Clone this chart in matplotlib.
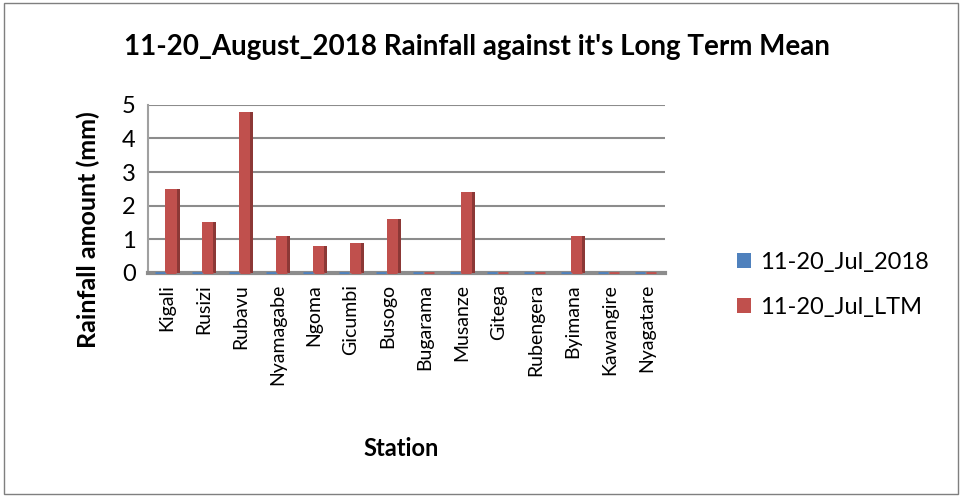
import numpy as np
import matplotlib.pyplot as plt
from matplotlib.patches import Rectangle

stations = ["Kigali", "Rusizi", "Rubavu", "Nyamagabe", "Ngoma", "Gicumbi", "Busogo",
            "Bugarama", "Musanze", "Gitega", "Rubengera", "Byimana", "Kawangire", "Nyagatare"]
jul_2018 = [0, 0, 0, 0, 0, 0, 0, 0, 0, 0, 0, 0, 0, 0]
jul_ltm = [2.5, 1.5, 4.8, 1.1, 0.8, 0.9, 1.6, 0, 2.4, 0, 0, 1.1, 0, 0]

plt.rcParams['font.family'] = ['Lato', 'DejaVu Sans']

fig = plt.figure(figsize=(9.62, 4.97), dpi=100)
ax = fig.add_axes([0.154, 0.451, 0.537, 0.338])

x = np.arange(len(stations))
w = 0.3
blue, red = "#4F81BD", "#C0504D"
red_side = "#8C3836"

# front faces
ax.bar(x - 0.18, jul_2018, w, color=blue, zorder=3, label="11-20_Jul_2018")
ax.bar(x + 0.12, jul_ltm, w, color=red, zorder=3, label="11-20_Jul_LTM")
# darker side faces for a 3-D look
ax.bar(x + 0.12 + w / 2 + 0.04, jul_ltm, 0.08, color=red_side, zorder=3)
# flat slabs for zero values
ax.scatter(x - 0.18, np.zeros(len(x)), marker="_", s=60, color=blue, zorder=4, linewidths=2)
ax.scatter(x + 0.12, np.zeros(len(x)), marker="_", s=60, color=red, zorder=4, linewidths=2)

ax.set_xlim(-0.5, len(stations) - 0.5)
ax.set_ylim(0, 5)
ax.set_yticks(range(6))
ax.yaxis.grid(True, color="#8C8C8C", linewidth=1.5, zorder=0)
ax.set_axisbelow(True)
for s in ["top", "right"]:
    ax.spines[s].set_visible(False)
ax.spines["left"].set_color("#A0A0A0")
ax.spines["left"].set_linewidth(1.5)
ax.spines["bottom"].set_color("#8C8C8C")
ax.spines["bottom"].set_linewidth(3)
ax.tick_params(axis="y", length=0, labelsize=17, pad=9)
ax.tick_params(axis="x", length=0, pad=8)
ax.set_xticks(x)
ax.set_xticklabels(stations, rotation=90, fontsize=14)

fig.text(0.496, 0.905, "11-20_August_2018 Rainfall against it's Long Term Mean",
         fontsize=20, fontweight="bold", ha="center", va="center")
ax.set_ylabel("Rainfall amount (mm)", fontsize=18, fontweight="bold")
ax.yaxis.set_label_coords(-0.093, 0.256)
ax.set_xlabel("Station", fontsize=17, fontweight="bold")
ax.xaxis.set_label_coords(0.489, -0.976)

fig.legend(loc="center left", bbox_to_anchor=(0.766, 0.427), frameon=False, fontsize=17,
           handlelength=0.6, handleheight=0.6, handletextpad=0.4, labelspacing=1.0,
           borderaxespad=0, borderpad=0)

fig.patches.append(Rectangle((0.004, 0.006), 0.992, 0.988, transform=fig.transFigure,
                             fill=False, edgecolor="#7F7F7F", linewidth=1))

fig.savefig("out.png", dpi=100)
